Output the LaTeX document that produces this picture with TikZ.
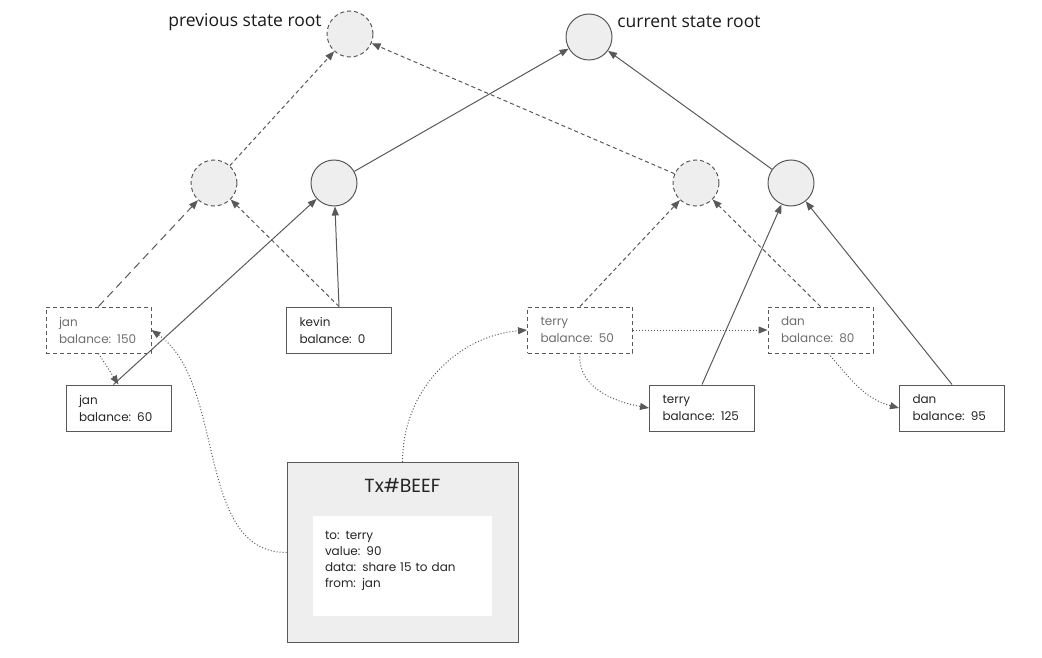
\documentclass[tikz,border=0pt]{standalone}
\usepackage{fontspec}
\setmainfont{Poppins}
\newfontfamily\labelfont{Open Sans}
\usetikzlibrary{positioning,arrows.meta}
\definecolor{linec}{HTML}{595959}
\definecolor{knotfill}{HTML}{EEEEEE}
\definecolor{oldtext}{HTML}{6E6E6E}
\tikzset{
    every node/.style={
        font=\fontsize{12}{17}\selectfont
    },
    knot/.style={
        shape=circle,
        draw=linec,
        fill=knotfill,
        minimum size=46pt,
        inner sep=0pt
    },
    oldknot/.style={
        knot,
        dash pattern=on 4pt off 3pt
    },
    acct/.style={
        shape=rectangle,
        draw=linec,
        text=black!85,
        text width=79pt,
        inner xsep=13pt,
        inner ysep=0pt,
        minimum height=46pt,
        align=left
    },
    oldacct/.style={
        acct,
        text=oldtext,
        dash pattern=on 4pt off 3pt
    }
}

\begin{document}
\begin{tikzpicture}[
		x=1pt, y=-1pt,
		line width=1pt,
		link/.style={draw=linec, -{Triangle[length=9pt,width=7pt]}},
		oldlink/.style={link, dash pattern=on 4pt off 3pt},
		movelink/.style={link, dotted},
		rootlabel/.style={font=\labelfont\fontsize{17.5}{19}\selectfont, text=black!90}
		]
		\useasboundingbox (0,0) rectangle (1042,658);
		
		\node (prev) at (350, 34) [oldknot] {};
		\node (cur) at (589, 37) [knot] {};
		\node (prevlbl) [left=1pt of prev, rootlabel, yshift=12pt] {previous state root};
		\node (curlbl) [right=1pt of cur, rootlabel, yshift=15pt] {current state root};
		
		\node (la) at (214, 183) [oldknot] {};
		\node (lb) at (334, 183) [knot] {};
		\node (lc) at (696, 183) [oldknot] {};
		\node (ld) at (791, 183) [knot] {};
		
		\node (oldjan) at (98.5, 330) [oldacct] {jan\\balance: 150};
		\node (kevin) at (339, 330) [acct] {kevin\\balance: 0};
		\node (oldterry) at (580, 330) [oldacct] {terry\\balance: 50};
		\node (olddan) at (820.5, 330) [oldacct] {dan\\balance: 80};
		
		\node (jan) at (118.5, 408) [acct] {jan\\balance: 60};
		\node (terry) at (702, 408) [acct] {terry\\balance: 125};
		\node (dan) at (952, 408) [acct] {dan\\balance: 95};
		
		\node (tx) at (402.5, 552.5) [draw=linec, fill=knotfill, minimum width=231pt, minimum height=180pt] {};
		\node (txt) at (402.5, 485) [font=\fontsize{19}{21}\selectfont, text=black!85] {Tx\#BEEF};
		\node (txb) at (402.5, 566) [fill=white, minimum width=179pt, minimum height=100pt] {};
		\node (txd) [below right=12pt and 0pt of txb.north west, text width=150pt, inner xsep=12pt, align=left, font=\fontsize{12}{16}\selectfont, text=black!85] {to: terry\\value: 90\\data: share 15 to dan\\from: jan};
		
		\draw [oldlink] (la) -- (prev);
		\draw [oldlink] (lc) -- (prev);
		\draw [link] (lb) -- (cur);
		\draw [link] (ld) -- (cur);
		
		\draw [link, dash pattern=on 8pt off 5pt] (oldjan.north) -- (la);
		\draw [oldlink] (kevin.north) -- (la);
		\draw [link] (kevin.north) -- (lb);
		\draw [link] ([xshift=-5pt]jan.north) -- (lb);
		
		\draw [oldlink] (oldterry.north) -- (lc);
		\draw [oldlink] (olddan.north) -- (lc);
		\draw [link] (terry.north) -- (ld);
		\draw [link] (dan.north) -- (ld);
		
		\draw [movelink] (oldjan.south) -- (jan.north);
		\draw [movelink] (tx.west) to [out=180, in=-35, looseness=0.9] (oldjan.east);
		\draw [movelink] (tx.north) to [out=90, in=185] (oldterry.west);
		\draw [movelink] (oldterry.east) -- (olddan.west);
		\draw [movelink] (oldterry.south) to [out=-95, in=170] (terry.west);
		\draw [movelink] ([xshift=8pt]olddan.south) to [out=-50, in=165] (dan.west);
	\end{tikzpicture}
\end{document}
